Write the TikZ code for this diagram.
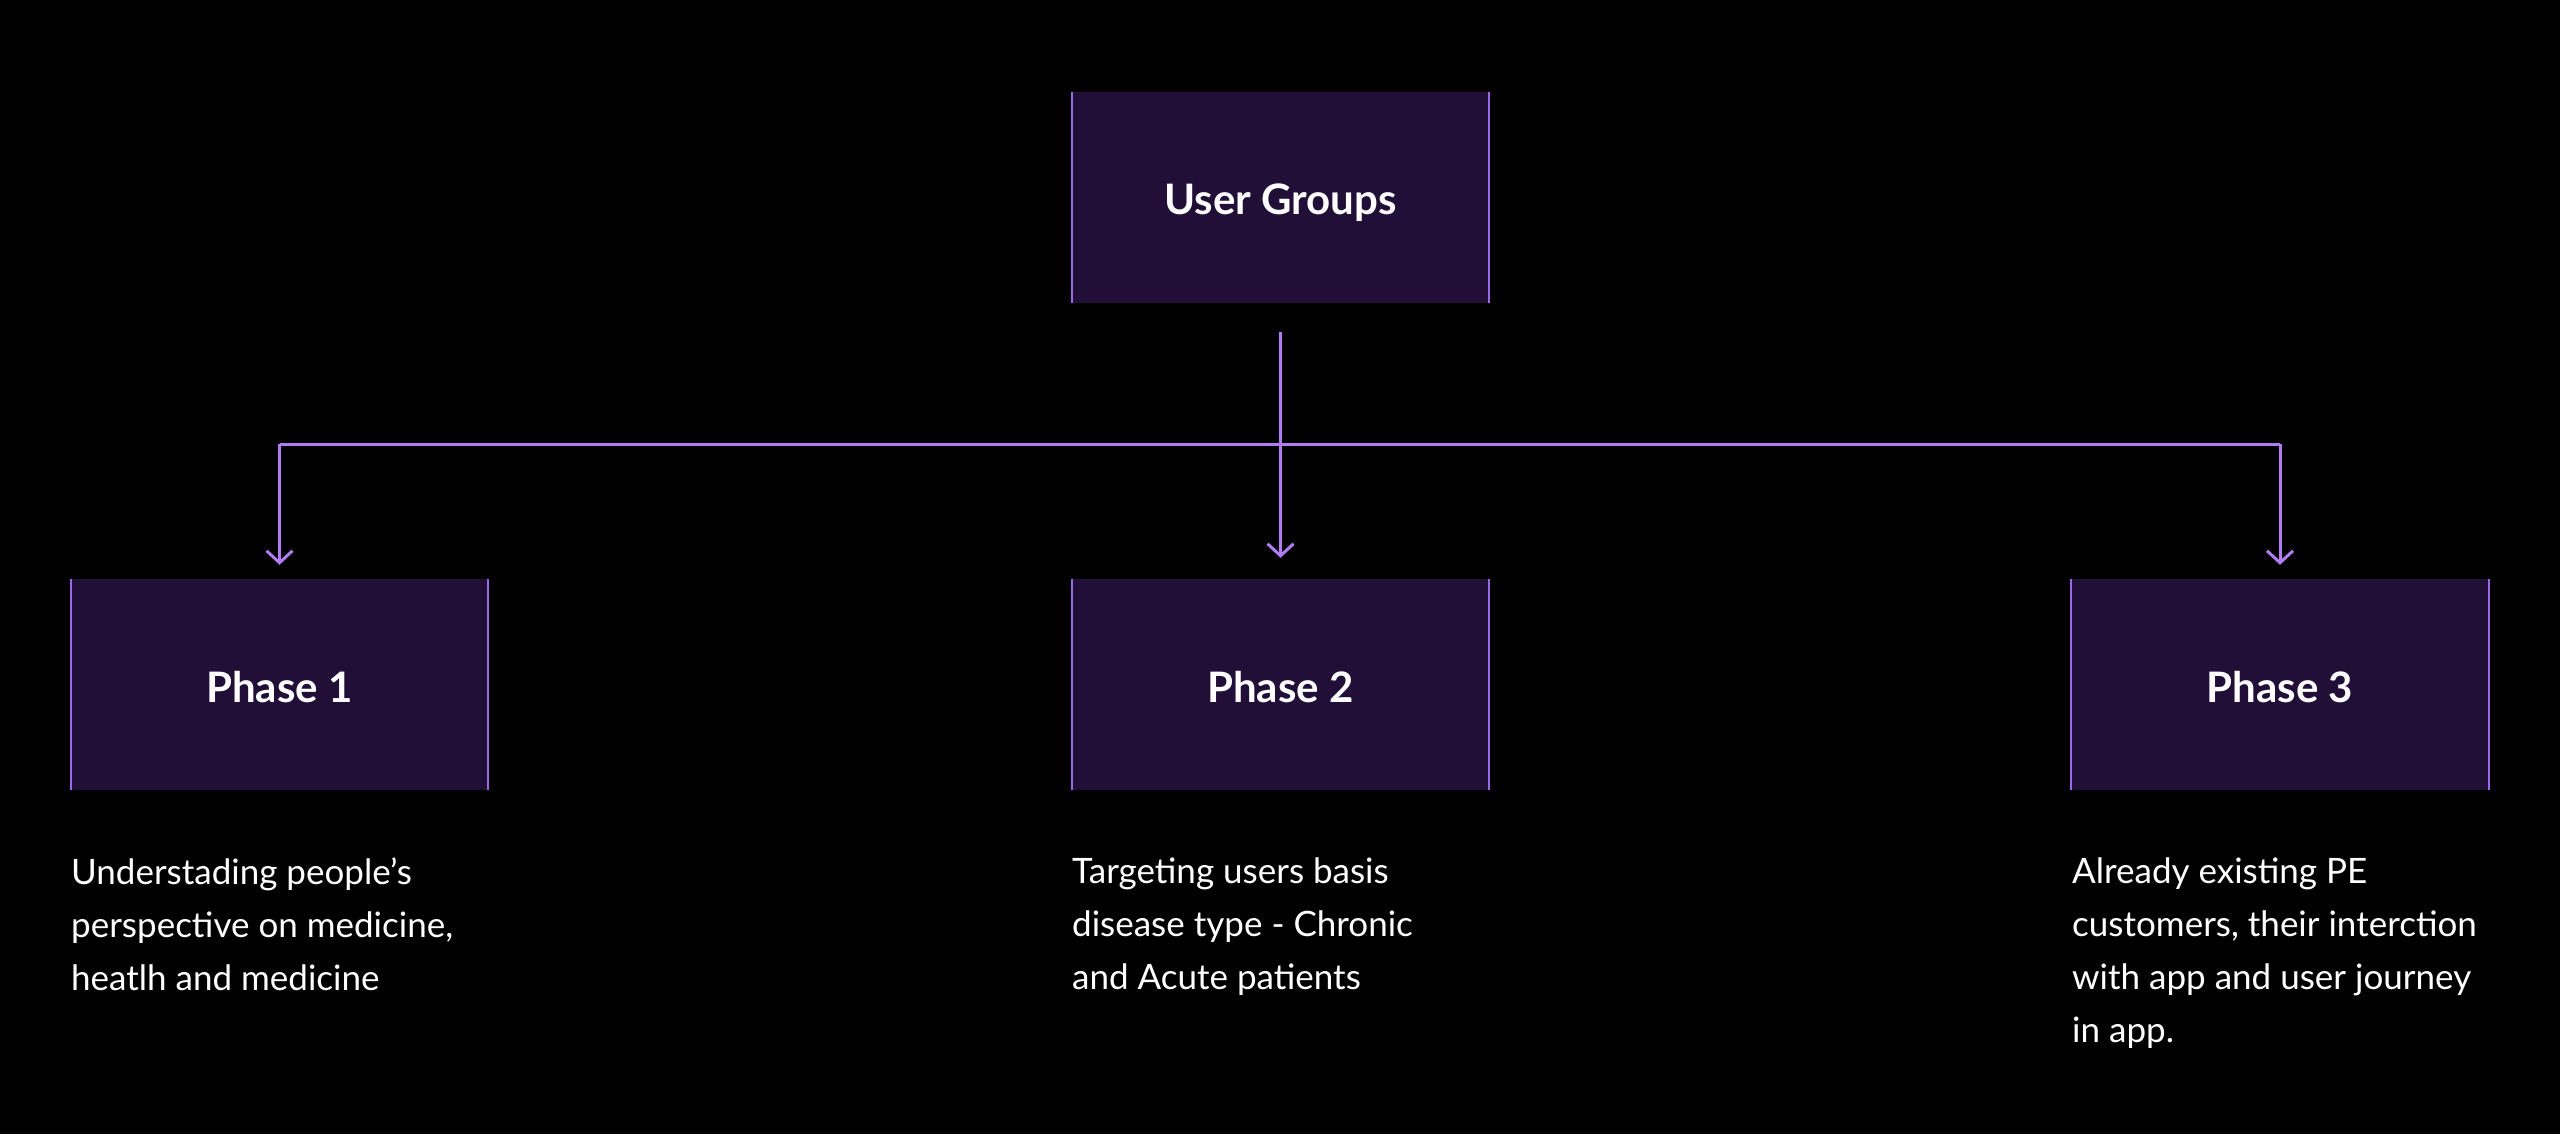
\documentclass[tikz,border=0pt]{standalone}
\usepackage{fontspec}
\setmainfont{Lato}
\usetikzlibrary{arrows.meta}
\definecolor{bgc}{HTML}{000000}
\definecolor{boxfill}{HTML}{220F38}
\definecolor{edgec}{HTML}{9B6AE0}
\definecolor{arrc}{HTML}{B07CF2}
\tikzset{
  phasebox/.style={fill=boxfill, minimum width=417pt, minimum height=211pt, inner sep=0pt,
    text height=35pt, text depth=0pt,
    text=white, font=\fontsize{42}{50}\selectfont\bfseries},
  sideedge/.style={draw=edgec, line width=2pt},
  conn/.style={draw=arrc, line width=3pt, -{Straight Barb[length=12pt,width=26pt,line width=3pt]}},
  bus/.style={draw=arrc, line width=3pt},
  desc/.style={anchor=north west, align=left, inner sep=0pt, text=white,
    font=\fontsize{35}{53}\selectfont}
}
\begin{document}
\begin{tikzpicture}[x=1pt,y=-1pt]
\fill[bgc] (0,0) rectangle (2560,1134);
\useasboundingbox (0,0) rectangle (2560,1134);

\node[phasebox] (ug) at (1280.5,197.5) {User Groups};
\node[phasebox] (p1) at (279.5,684.5) {Phase 1};
\node[phasebox] (p2) at (1280.5,684.5) {Phase 2};
\node[phasebox] (p3) at (2280,684.5) {Phase 3};

\foreach \n in {ug,p1,p2,p3}{
  \draw[sideedge] (\n.north west) -- (\n.south west);
  \draw[sideedge] (\n.north east) -- (\n.south east);
}

\coordinate (ugs) at (1280.5,332);
\coordinate (busy) at (0,444);

\draw[bus] (ugs |- busy) -- (p1.north |- busy);
\draw[bus] (ugs |- busy) -- (p3.north |- busy);
\draw[conn, shorten >=21pt] (ugs) -- (p2.north);
\draw[conn, shorten >=14pt] (p1.north |- busy) -- (p1.north);
\draw[conn, shorten >=14pt] (p3.north |- busy) -- (p3.north);

\node[desc] (d1) at (71,858) {Understading people’s\\perspective on medicine,\\heatlh and medicine};
\node[desc] (d2) at (1072,858) {Targeting users basis\\disease type - Chronic\\and Acute patients};
\node[desc] (d3) at (2072,858) {Already existing PE\\customers, their interction\\with app and user journey\\in app.};
\end{tikzpicture}
\end{document}
